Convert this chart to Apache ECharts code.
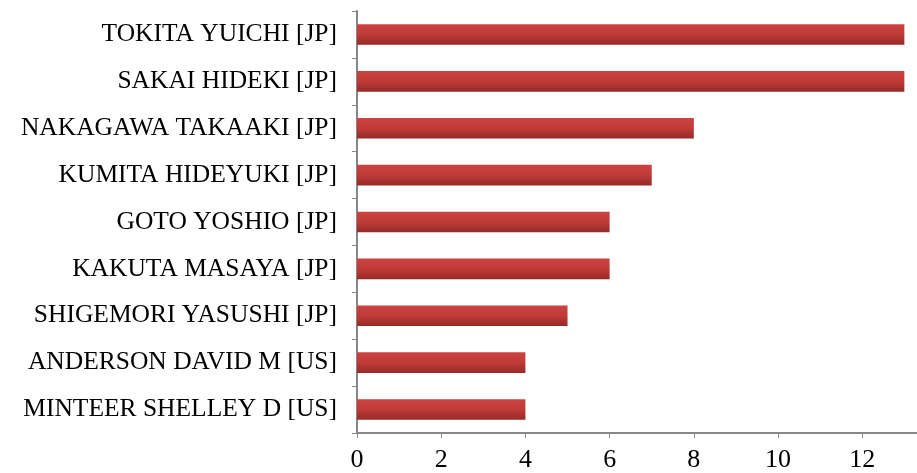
<!DOCTYPE html>
<html>
<head>
<meta charset="utf-8">
<script src="https://cdn.jsdelivr.net/npm/echarts@6/dist/echarts.min.js"></script>
<style>
  html, body { margin: 0; padding: 0; background: #fff; }
  #chart { width: 917px; height: 473px; }
</style>
</head>
<body>
<div id="chart"></div>
<script>
// bottom to top, as echarts draws category axes
const inventors = [
  'MINTEER SHELLEY D [US]',
  'ANDERSON DAVID M [US]',
  'SHIGEMORI YASUSHI [JP]',
  'KAKUTA MASAYA [JP]',
  'GOTO YOSHIO [JP]',
  'KUMITA HIDEYUKI [JP]',
  'NAKAGAWA TAKAAKI [JP]',
  'SAKAI HIDEKI [JP]',
  'TOKITA YUICHI [JP]',
];
const patentCounts = [4, 4, 5, 6, 6, 7, 8, 13, 13];

const chart = echarts.init(document.getElementById('chart'));
chart.setOption({
  animation: false,
  grid: { left: 357, right: 0, top: 11, bottom: 40, containLabel: false },
  xAxis: {
    type: 'value',
    min: 0,
    max: 13.3,
    interval: 2,
    splitLine: { show: false },
    axisLine: { show: true, lineStyle: { color: '#878787', width: 2 } },
    axisTick: { show: true, length: 5, lineStyle: { color: '#878787' } },
    axisLabel: {
      color: '#000',
      fontFamily: 'Liberation Serif',
      fontSize: 26,
      margin: 14,
      showMaxLabel: false,
    },
  },
  yAxis: {
    type: 'category',
    data: inventors,
    axisLine: { show: true, lineStyle: { color: '#878787', width: 2 } },
    axisTick: { show: true, length: 5, lineStyle: { color: '#878787' } },
    axisLabel: {
      color: '#000',
      fontFamily: 'Liberation Serif',
      fontSize: 25.5,
      margin: 20,
    },
  },
  series: [{
    type: 'bar',
    data: patentCounts,
    barWidth: '44%',
    itemStyle: {
      color: new echarts.graphic.LinearGradient(0, 0, 0, 1, [
        { offset: 0, color: '#cd4341' },
        { offset: 0.5, color: '#bf3b38' },
        { offset: 1, color: '#962a27' },
      ]),
    },
  }],
});
</script>
</body>
</html>
